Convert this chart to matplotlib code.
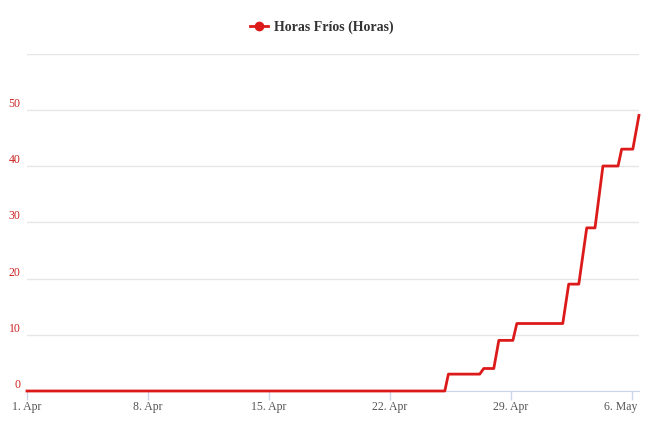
import matplotlib
matplotlib.use("Agg")
import matplotlib.pyplot as plt
import matplotlib.transforms as mtransforms
import pandas as pd

plt.rcParams['font.family'] = ['Liberation Serif', 'DejaVu Serif']

# accumulated cold hours
times = ["2024-04-01 00:00", "2024-04-25 04:00", "2024-04-25 09:00",
         "2024-04-27 04:30", "2024-04-27 10:00", "2024-04-28 00:00",
         "2024-04-28 07:00", "2024-04-29 02:30", "2024-04-29 08:00",
         "2024-05-01 23:45", "2024-05-02 08:00", "2024-05-02 22:00",
         "2024-05-03 09:00", "2024-05-03 20:30", "2024-05-04 07:30",
         "2024-05-05 04:30", "2024-05-05 09:30", "2024-05-06 01:00",
         "2024-05-06 09:30"]
horas = [0, 0, 3, 3, 4, 4, 9, 9, 12, 12, 19, 19, 29, 29, 40, 40, 43, 43, 49]

tick_dates = ["2024-04-01", "2024-04-08", "2024-04-15", "2024-04-22",
              "2024-04-29", "2024-05-06"]
tick_labels = ["1. Apr", "8. Apr", "15. Apr", "22. Apr", "29. Apr", "6. May"]
y_ticks = [0, 10, 20, 30, 40, 50, 60]

t = pd.to_datetime(times)
red = "#dd1a1a"

fig = plt.figure(figsize=(6.5, 4.33), dpi=100)
ax = fig.add_axes([0.0415, 0.097, 0.9415, 0.7794])

ax.plot(t, horas, color=red, lw=2, solid_joinstyle="round",
        clip_on=False, zorder=3)

ax.set_xlim(t[0], t[-1])
ax.set_ylim(0, 60)

ax.set_yticks(y_ticks)
ax.set_yticklabels([str(v) if v < 60 else "" for v in y_ticks])
ax.grid(axis="y", color="#e6e6e6", lw=1)
ax.tick_params(axis="y", length=0, pad=4.5, labelsize=8.5, labelcolor="#cc2222")
for lab in ax.get_yticklabels():
    lab.set_verticalalignment("bottom")

ax.set_xticks(pd.to_datetime(tick_dates))
ax.set_xticklabels(tick_labels)
ax.tick_params(axis="x", length=6.5, width=1, color="#ccd6eb", pad=0.5,
               labelsize=8.5, labelcolor="#555555")
# last label kept inside the chart, like the original
last = ax.get_xticklabels()[-1]
last.set_horizontalalignment("right")
last.set_transform(last.get_transform() +
                   mtransforms.ScaledTranslation(5 / 100, 0, fig.dpi_scale_trans))

for s in ["top", "right", "left"]:
    ax.spines[s].set_visible(False)
ax.spines["bottom"].set_color("#ccd6eb")
ax.set_axisbelow(True)

h = plt.Line2D([], [], color=red, lw=2, marker="o", markersize=6)
fig.legend([h], ["Horas Fríos (Horas)"], loc="center", bbox_to_anchor=(0.495, 0.937),
           frameon=False, prop={"weight": "bold", "size": 10}, handlelength=1.3,
           handletextpad=0.45, labelcolor="#333333")

fig.savefig("out.png", dpi=100)
